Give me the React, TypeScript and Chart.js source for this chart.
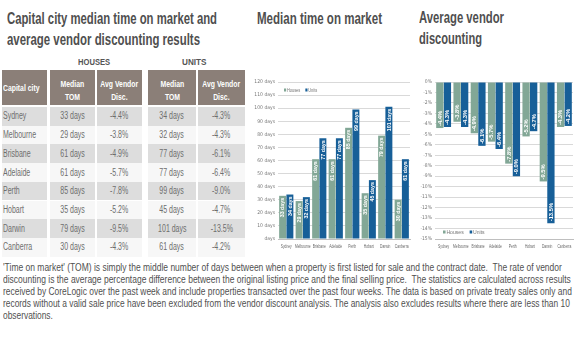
import React, { useEffect, useRef } from "react";
import { Chart, registerables } from "chart.js";
Chart.register(...registerables);

const SANS = '"Liberation Sans", Arial, sans-serif';
const TICKFONT = '"DejaVu Sans Condensed", "Liberation Sans", sans-serif';

const cities = ["Sydney", "Melbourne", "Brisbane", "Adelaide", "Perth", "Hobart", "Darwin", "Canberra"];
const housesTom = [33, 29, 61, 61, 85, 35, 79, 30];
const unitsTom = [34, 32, 77, 77, 99, 45, 101, 61];
const housesDisc = [-4.4, -3.8, -4.9, -5.7, -7.8, -5.2, -9.5, -4.3];
const unitsDisc = [-4.3, -4.3, -6.1, -6.4, -9.0, -4.7, -13.5, -4.2];
const seriesNames = ["Houses", "Units"];

const GREEN = "#82a796";
const BLUE = "#175f98";

const noteLines = [
  "'Time on market' (TOM) is simply the middle number of days between when a property is first listed for sale and the contract date.  The rate of vendor",
  "discounting is the average percentage difference between the original listing price and the final selling price.  The statistics are calculated across results",
  "received by CoreLogic over the past week and include properties transacted over the past four weeks. The data is based on private treaty sales only and",
  "records without a valid sale price have been excluded from the vendor discount analysis. The analysis also excludes results where there are less than 10",
  "observations.",
];

let measureCtx: CanvasRenderingContext2D | null = null;
function textWidth(text: string, font: string) {
  if (!measureCtx) measureCtx = document.createElement("canvas").getContext("2d");
  (measureCtx as CanvasRenderingContext2D).font = font;
  return (measureCtx as CanvasRenderingContext2D).measureText(text).width;
}

function Txt(p: { x: number; baseline: number; text: string; size: number; bold?: boolean; color: string; width?: number; scale?: number; align?: string }) {
  const font = (p.bold ? "bold " : "") + p.size + "px " + SANS;
  const w = textWidth(p.text, font);
  const s = p.width ? p.width / w : p.scale ?? 1;
  const top = p.baseline - 0.8465 * p.size;
  const left = p.align === "center" ? p.x - w / 2 : p.x;
  return (
    <div style={{
      position: "absolute", left, top, fontFamily: SANS, fontSize: p.size, fontWeight: p.bold ? "bold" : "normal",
      lineHeight: p.size + "px", whiteSpace: "pre", color: p.color, transform: "scaleX(" + s + ")",
      transformOrigin: p.align === "center" ? "center" : "left",
    }}>{p.text}</div>
  );
}

function makePlugin(fmt: (v: number) => string, neg: boolean, labelSize: number, legend: { dx: number; dy: number; bottom: boolean; size: number; sx: number }) {
  return {
    id: "customText",
    afterDatasetsDraw(chart: any) {
      const ctx = chart.ctx;
      const a = chart.chartArea;
      ctx.save();
      // bar value labels
      chart.data.datasets.forEach((ds: any, di: number) => {
        const meta = chart.getDatasetMeta(di);
        meta.data.forEach((el: any, i: number) => {
          const v = ds.data[i];
          ctx.save();
          ctx.translate(el.x + 0.3, neg ? el.y - 2 : el.y + 2);
          ctx.rotate(-Math.PI / 2);
          ctx.textAlign = neg ? "left" : "right";
          ctx.textBaseline = "middle";
          ctx.fillStyle = "#ffffff";
          ctx.font = "bold " + labelSize + "px " + SANS;
          ctx.fillText(fmt(v), 0, 0);
          ctx.restore();
        });
      });
      // x category labels
      const xs = chart.scales.x;
      ctx.font = "4.6px " + SANS;
      ctx.fillStyle = "#666";
      ctx.textAlign = "center";
      ctx.textBaseline = "middle";
      chart.data.labels.forEach((l: string, i: number) => {
        const x = xs.getPixelForTick(i);
        ctx.save();
        ctx.translate(x, a.bottom + 8);
        ctx.scale(0.72, 1);
        ctx.fillText(l, 0, 0);
        ctx.restore();
      });
      // legend
      ctx.save();
      ctx.translate(a.left + legend.dx, legend.bottom ? a.bottom - legend.dy : a.top + legend.dy);
      ctx.scale(legend.sx, 1);
      let x = 0;
      ctx.font = legend.size + "px " + SANS;
      ctx.textBaseline = "middle";
      ctx.textAlign = "left";
      chart.data.datasets.forEach((ds: any) => {
        ctx.fillStyle = ds.backgroundColor;
        ctx.fillRect(x, -1.5, 3, 3);
        x += 4;
        ctx.fillStyle = "#777";
        ctx.fillText(ds.label, x, 0.3);
        x += ctx.measureText(ds.label).width + 7;
      });
      ctx.restore();
      ctx.restore();
    },
  };
}

function BarChart(props: {
  left: number; top: number; width: number; height: number;
  a: number[]; b: number[]; min: number; max: number; step: number;
  tick: (v: number) => string; label: (v: number) => string; neg: boolean;
  yWidth: number; padRight: number; labelSize: number;
  legend: { dx: number; dy: number; bottom: boolean; size: number; sx: number };
}) {
  const ref = useRef<HTMLCanvasElement>(null);
  useEffect(() => {
    const tickFont = { size: 5, family: TICKFONT };
    const chart = new Chart(ref.current as HTMLCanvasElement, {
      type: "bar",
      data: {
        labels: cities,
        datasets: [
          { label: seriesNames[0], data: props.a, backgroundColor: GREEN, barPercentage: 0.96, categoryPercentage: 0.88 },
          { label: seriesNames[1], data: props.b, backgroundColor: BLUE, barPercentage: 0.96, categoryPercentage: 0.88 },
        ],
      },
      options: {
        animation: false,
        responsive: false,
        maintainAspectRatio: false,
        layout: { padding: { top: 8, right: props.padRight, left: 0, bottom: 0 } },
        plugins: { legend: { display: false }, tooltip: { enabled: false } },
        scales: {
          x: {
            grid: { display: false },
            border: { color: "#bfbfbf" },
            ticks: { display: false },
            afterFit: (s: any) => { s.height = 20; },
          },
          y: {
            min: props.min,
            max: props.max,
            ticks: { stepSize: props.step, font: tickFont, color: "#777", padding: 3, callback: (v: any) => props.tick(Number(v)) },
            grid: { color: "#d9d9d9", drawTicks: false },
            border: { display: false },
            afterFit: (s: any) => { s.width = props.yWidth; },
          },
        },
      },
      plugins: [makePlugin(props.label, props.neg, props.labelSize, props.legend)],
    } as any);
    return () => chart.destroy();
  }, []);
  return (
    <canvas
      ref={ref}
      width={props.width}
      height={props.height}
      style={{ position: "absolute", left: props.left, top: props.top, width: props.width, height: props.height }}
    />
  );
}

const cols = [
  { x: 2, w: 45 },
  { x: 50, w: 45 },
  { x: 97, w: 45 },
  { x: 148, w: 48 },
  { x: 198, w: 47 },
];
const headers = [["Capital city"], ["Median", "TOM"], ["Avg Vendor", "Disc."], ["Median", "TOM"], ["Avg Vendor", "Disc."]];
const ROW_TOP = 107;
const ROW_H = 18.7;
const TITLE = "#4f4f4f";

export default function App() {
  const cells: any[] = [];
  headers.forEach((h, ci) => {
    const c = cols[ci];
    cells.push(
      <div key={"hb" + ci} style={{ position: "absolute", left: c.x, top: 70, width: c.w, height: 35, background: "#8b7f78" }} />
    );
    if (h.length === 1) {
      cells.push(<Txt key={"ht" + ci} x={c.x + 1} baseline={91} text={h[0]} size={9.5} bold color="#fff" scale={0.72} />);
    } else {
      cells.push(<Txt key={"ht" + ci + "a"} x={c.x + c.w / 2} baseline={87} text={h[0]} size={9.5} bold color="#fff" scale={0.72} align="center" />);
      cells.push(<Txt key={"ht" + ci + "b"} x={c.x + c.w / 2} baseline={100} text={h[1]} size={9.5} bold color="#fff" scale={0.72} align="center" />);
    }
  });
  cities.forEach((city, ri) => {
    const vals = [
      city,
      housesTom[ri] + " days",
      housesDisc[ri].toFixed(1) + "%",
      unitsTom[ri] + " days",
      unitsDisc[ri].toFixed(1) + "%",
    ];
    const top = ROW_TOP + ri * ROW_H;
    vals.forEach((v, ci) => {
      const c = cols[ci];
      cells.push(
        <div key={"rb" + ri + "c" + ci} style={{
          position: "absolute", left: c.x, top, width: c.w, height: ROW_H,
          background: ri % 2 === 0 ? "#dddddd" : "#f7f7f7",
        }} />
      );
      cells.push(
        <Txt key={"rt" + ri + "c" + ci} x={ci === 0 ? c.x + 1 : c.x + c.w / 2} baseline={top + ROW_H / 2 + 3.6}
          text={v} size={10} color="#6e6e6e" scale={0.7} align={ci === 0 ? "left" : "center"} />
      );
    });
  });

  const lineScale4 = 567 / textWidth(noteLines[3], "10.5px " + SANS);
  const noteW = [559, 568, 569, 567];

  return (
    <div style={{ position: "fixed", left: 0, top: 0, width: 580, height: 352, background: "#fff", overflow: "hidden" }}>
      <Txt x={7} baseline={25} text="Capital city median time on market and" size={16} bold color={TITLE} width={210} />
      <Txt x={7} baseline={46} text="average vendor discounting results" size={16} bold color={TITLE} width={193} />
      <Txt x={94} baseline={65} text="HOUSES" size={9.5} bold color="#555" scale={0.8} align="center" />
      <Txt x={194.5} baseline={65} text="UNITS" size={9.5} bold color="#555" scale={0.86} align="center" />
      {cells}

      <Txt x={257} baseline={25} text="Median time on market" size={16} bold color={TITLE} width={125} />
      <Txt x={419} baseline={24} text="Average vendor" size={16} bold color={TITLE} width={85} />
      <Txt x={419} baseline={45} text="discounting" size={16} bold color={TITLE} width={63} />

      <BarChart left={250} top={74} width={165} height={185} a={housesTom} b={unitsTom} min={0} max={120} step={10}
        tick={(v) => (v === 0 ? " days" : v + " days")} label={(v) => v + " days"} neg={false} yWidth={28} padRight={5}
        labelSize={5.3} legend={{ dx: 6, dy: 8, bottom: false, size: 5.5, sx: 0.72 }} />
      <BarChart left={410} top={74} width={170} height={185} a={housesDisc} b={unitsDisc} min={-15} max={0} step={1}
        tick={(v) => v + "%"} label={(v) => v.toFixed(1) + "%"} neg={true} yWidth={25} padRight={7}
        labelSize={5.8} legend={{ dx: 8, dy: 7, bottom: true, size: 6, sx: 0.85 }} />

      {noteLines.map((l, i) => (
        <Txt key={"n" + i} x={3} baseline={271 + i * 12} text={l} size={10.5} color="#505050"
          width={i < 4 ? noteW[i] : undefined} scale={i < 4 ? undefined : lineScale4} />
      ))}
    </div>
  );
}
